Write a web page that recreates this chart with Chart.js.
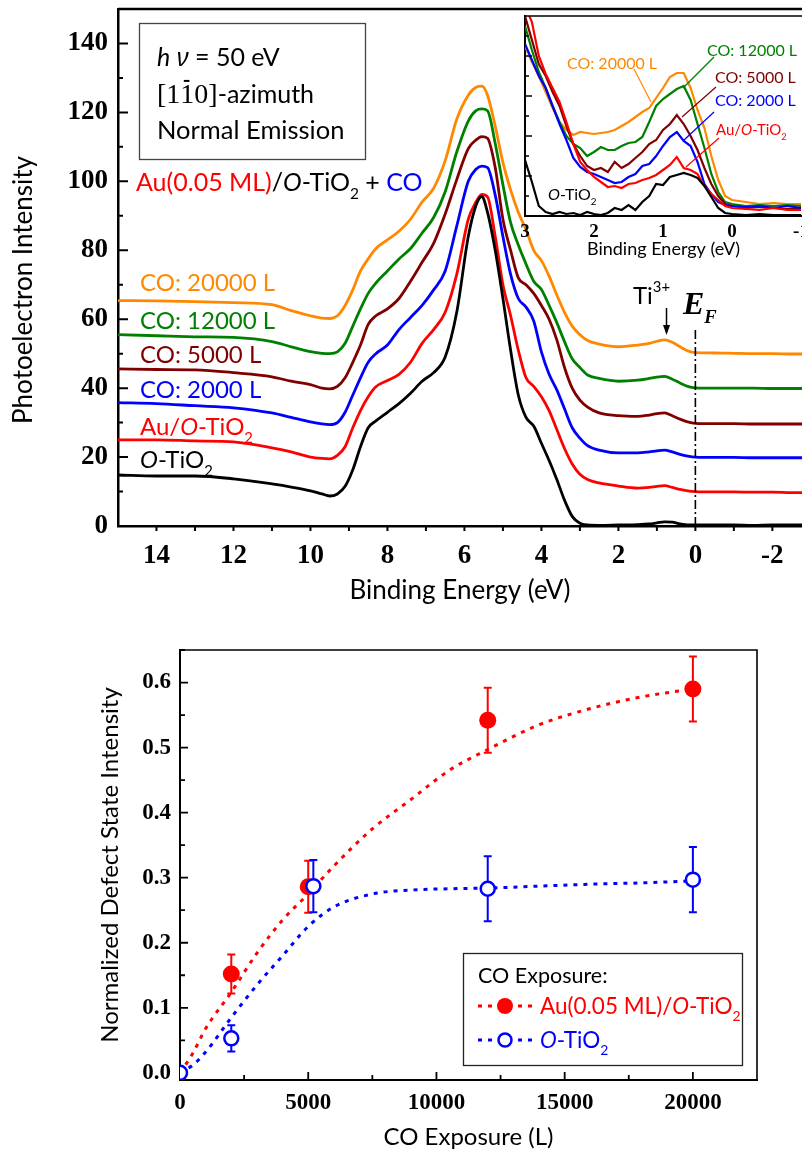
<!DOCTYPE html>
<html>
<head>
<meta charset="utf-8">
<title>Ti3+ defect state under CO exposure</title>
<script src="https://cdn.jsdelivr.net/npm/chart.js@4.4.1/dist/chart.umd.min.js"></script>
<style>
  body { margin: 0; background: #fff; }
  #page { position: relative; width: 802px; height: 1155px; overflow: hidden; background: #fff; }
  canvas { position: absolute; }
</style>
</head>
<body>
<div id="page">
  <canvas id="spectra" width="802" height="615" style="left:0;top:0"></canvas>
  <canvas id="inset" width="297" height="254" style="left:505px;top:6px"></canvas>
  <canvas id="defect" width="802" height="535" style="left:0;top:620px"></canvas>
</div>
<script>
// Valence band spectra (hv = 50 eV) and Ti3+ defect state intensity vs CO exposure

const SANS = 'Lato, "Open Sans", sans-serif'
const SERIF = '"Liberation Serif", "Times New Roman", serif'

// main spectra, binding energy (eV)
const energy = [15, 14, 13, 12, 11, 10.5, 10, 9.7, 9.5, 9.3,
  9.1, 8.9, 8.7, 8.5, 8.3, 8.0, 7.7, 7.4, 7.1, 6.8,
  6.5, 6.2, 5.9, 5.7, 5.55, 5.4, 5.2, 5.0, 4.8, 4.6,
  4.4, 4.2, 4.0, 3.8, 3.6, 3.4, 3.2, 3.0, 2.8, 2.5,
  2.0, 1.5, 1.2, 1.0, 0.8, 0.6, 0.4, 0.2, 0, -0.5,
  -1, -1.5, -2, -2.5, -2.8]
const oTiO2 = [14.8, 14.5, 14.5, 13.7, 12.2, 11.3, 10.2, 9.3, 8.7, 9.3,
  11.5, 16.3, 23, 28.5, 30.5, 33, 35.5, 38.5, 42, 44.5,
  49, 62, 84, 93, 95.6, 91, 80, 66, 51, 38,
  31.5, 29, 24, 19, 13.5, 7.5, 2.8, 0.8, 0.3, 0.2,
  0.3, 0.4, 0.6, 0.9, 1.2, 1.1, 0.6, 0.3, 0.3, 0.3,
  0.3, 0.2, 0.3, 0.3, 0.3]
const auTiO2 = [25, 25, 24.7, 24.4, 22.7, 21.5, 20, 19.6, 19.5, 20.5,
  23, 28.5, 33.5, 37.5, 40.4, 42.2, 44, 47.5, 53, 57,
  62, 73, 89, 94, 96.2, 95.5, 84, 70, 61, 51,
  43, 40.5, 37.5, 33.5, 28, 22.5, 18, 15, 13.5, 12.5,
  11.6, 11, 11.2, 11.5, 11.7, 11.2, 10.6, 10.2, 10, 9.9,
  9.9, 9.8, 9.8, 9.7, 9.7]
const co2000 = [35.8, 35.5, 34.9, 34.3, 32.8, 31.5, 30.2, 29.6, 29.4, 30,
  33, 38, 43, 47.5, 50, 52.5, 57, 60.5, 64, 68.5,
  74, 87, 100, 103.5, 104.4, 104, 96, 84, 73, 66,
  63.5, 59.5, 50.5, 44, 39.5, 34, 28.5, 25.5, 23.3, 22,
  21.2, 21.2, 21.5, 21.8, 22, 21.5, 20.8, 20.3, 20, 19.9,
  19.9, 19.8, 19.8, 19.8, 19.8]
const co5000 = [45.6, 45.4, 45.3, 44.5, 43.3, 42, 41, 40, 39.8, 40.5,
  43, 47.5, 52.5, 58.5, 61, 63, 66, 71, 76.5, 82,
  90.5, 100.5, 109.5, 112, 113, 112.5, 104, 89, 80, 72,
  70, 67.5, 64, 60, 54, 46, 40, 36.5, 34.5, 32.8,
  32, 31.8, 32.2, 32.6, 32.8, 32, 31, 30.2, 29.8, 29.7,
  29.7, 29.6, 29.6, 29.6, 29.6]
const co12000 = [55.5, 55.2, 54.9, 54.7, 53.5, 52, 50.6, 50.1, 50, 50.5,
  53, 58, 63, 67.5, 70.5, 74, 77.5, 80.5, 85, 89.5,
  97, 108.5, 117.5, 120.5, 121, 120.5, 111, 99, 88, 81.5,
  76, 71, 68.6, 64, 59, 53.5, 48.5, 46, 43.8, 42.8,
  42, 42.3, 42.8, 43.2, 43.4, 42.6, 41.5, 40.5, 40.1, 40,
  40, 40, 39.9, 39.9, 39.9]
const co20000 = [65.4, 65.3, 65.1, 64.8, 64.2, 62.5, 61, 60.3, 60.2, 61,
  64, 68.5, 74, 77.5, 80.5, 83, 85.5, 89, 94, 98,
  106, 118, 125, 127.3, 127.6, 125, 116, 105.5, 97.5, 91,
  86, 80, 77, 72.5, 67, 62, 58, 55.5, 53.8, 52.8,
  52, 52.5, 53, 53.6, 54, 53.3, 52, 50.8, 50.3, 50.2,
  50.1, 50, 50, 49.9, 49.9]

// inset: band gap region (arb. units)
const energyInset = [3.0, 2.9, 2.8, 2.7, 2.6, 2.5, 2.4, 2.3, 2.2, 2.1,
  2.0, 1.9, 1.8, 1.7, 1.6, 1.5, 1.4, 1.3, 1.2, 1.1,
  1.0, 0.9, 0.8, 0.7, 0.6, 0.5, 0.4, 0.3, 0.2, 0.1,
  0, -0.2, -0.4, -0.6, -0.8, -1.0]
const oTiO2Inset = [28, 17, 5, 2, 1, 2, 1, 1.5, 0.5, 2,
  1, 0.5, 1.5, 4, 3, 5.5, 3, 7, 10, 16,
  15.5, 19.5, 20.5, 21.5, 20.5, 19, 15, 9.5, 4, 1.5,
  1, 0.5, 1, 0.5, 0.5, 0.5]
const auTiO2Inset = [105, 97, 80, 71, 64, 57, 47, 36, 27, 23,
  19.5, 17, 14.5, 15, 14, 16, 16.5, 18, 19, 20.5,
  23, 25.5, 29.5, 24, 23, 21, 15, 11, 8, 5,
  4, 3.5, 3, 4, 3, 3]
const co2000Inset = [86, 78, 70, 64, 55, 46, 38, 29, 24.5, 22,
  21, 19.5, 18, 16.5, 17, 19.5, 21, 25, 26, 30,
  35, 39.5, 42, 37.5, 35, 27, 16, 11, 7, 5.5,
  5, 4.5, 5, 4, 5, 4]
const co5000Inset = [100, 88, 76, 70, 62, 55, 45, 36, 30, 25,
  23, 24, 22, 27, 24, 26, 29, 32, 36, 38,
  43, 46, 50.5, 46, 40, 33, 24, 16, 10, 6,
  5, 4, 4.5, 4, 3.5, 4]
const co12000Inset = [95, 83, 72, 64, 55, 47, 40, 36, 34, 30,
  32, 34.5, 33, 33, 35, 36.5, 37, 39.5, 47, 55,
  58.5, 61, 63.5, 65, 58, 46, 34, 21, 12, 7,
  6, 5, 5.5, 5, 5.5, 5]
const co20000Inset = [85, 77, 70, 62, 54, 47, 43, 40.5, 42, 41.5,
  41, 41.5, 42, 43, 45, 47, 49.5, 52, 54, 59,
  64, 69.5, 71.5, 71.5, 64, 53, 44, 30, 18, 10,
  8, 7, 6, 6.5, 6, 6]

// normalized defect state intensity vs CO exposure (L)
const exposureTicks = [0, 5000, 10000, 15000, 20000]
const auExposure = [2000, 5000, 12000, 20000]
const auDefect = [0.152, 0.286, 0.542, 0.59]
const auDefectErr = [0.03, 0.04, 0.05, 0.05]
const tiExposure = [0, 2000, 5200, 12000, 20000]
const tiDefect = [0, 0.053, 0.287, 0.283, 0.297]
const tiDefectErr = [0, 0.02, 0.04, 0.05, 0.05]
const fitExposure = [0, 500, 1000, 2000, 3000, 4000, 5000, 6000, 7500, 9000, 10500, 12000, 14000, 16000, 18000, 20000]
const auFit = [0, 0.03, 0.068, 0.124, 0.184, 0.235, 0.275, 0.318, 0.375, 0.42, 0.465, 0.497, 0.535, 0.56, 0.578, 0.59]
const tiFit = [0, 0.012, 0.032, 0.085, 0.135, 0.18, 0.225, 0.255, 0.275, 0.281, 0.283, 0.284, 0.287, 0.29, 0.292, 0.295]

const colors = {o: '#000000', au: '#FF0000', c2: '#0000FF', c5: '#800000', c12: '#008000', c20: '#FF8800'}

function points(xs, ys) {
    return xs.map((x, i) => ({x: x, y: ys[i]}))
}

// draws a run of text pieces; y is the vertical centre of the normal sized text
function rich(ctx, x, y, parts, size, family) {
    ctx.textAlign = 'left'
    ctx.textBaseline = 'alphabetic'
    const base = y + size * 0.35
    for (const p of parts) {
        const s = (p.sub || p.sup) ? size * 0.62 : (p.size || size)
        ctx.font = (p.italic ? 'italic ' : '') + (p.bold ? 'bold ' : '') + s + 'px ' + (p.family || family)
        ctx.fillStyle = p.color || '#000'
        const dy = p.sub ? size * 0.32 : p.sup ? -size * 0.5 : 0
        ctx.fillText(p.t, x, base + dy)
        const w = ctx.measureText(p.t).width
        if (p.bar) {
            ctx.strokeStyle = p.color || '#000'
            ctx.lineWidth = 2
            ctx.beginPath()
            ctx.moveTo(x + w * 0.25, base - s * 0.78)
            ctx.lineTo(x + w * 0.65, base - s * 0.78)
            ctx.stroke()
        }
        x += w + (p.gap || 0)
    }
    return x
}

function tio2(color, extra) {
    return [{t: 'O', italic: true, color: color}, {t: '-TiO', color: color}, {t: '2', sub: true, color: color}].concat(extra || [])
}

function tickMarks(ctx, chart, axis, values, len, outward) {
    const s = chart.scales[axis]
    const a = chart.chartArea
    ctx.beginPath()
    for (const v of values) {
        const p = s.getPixelForValue(v)
        if (axis === 'x') {
            ctx.moveTo(p, a.bottom)
            ctx.lineTo(p, outward ? a.bottom + len : a.bottom - len)
        } else {
            ctx.moveTo(a.left, p)
            ctx.lineTo(outward ? a.left - len : a.left + len, p)
        }
    }
    ctx.stroke()
}

function range(from, to, step) {
    const out = []
    for (let v = from; v <= to + 1e-9; v += step) out.push(v)
    return out
}

function leader(ctx, color, x1, y1, x2, y2) {
    ctx.strokeStyle = color
    ctx.lineWidth = 1.2
    ctx.beginPath()
    ctx.moveTo(x1, y1)
    ctx.lineTo(x2, y2)
    ctx.stroke()
}

// ---------- top panel ----------
const spectraDecor = {
    id: 'spectraDecor',
    afterDraw(chart) {
        const ctx = chart.ctx
        const a = chart.chartArea
        const xs = chart.scales.x
        ctx.save()
        ctx.strokeStyle = '#000'
        ctx.lineWidth = 2.5
        ctx.beginPath()
        ctx.moveTo(a.left, a.top)
        ctx.lineTo(a.right, a.top)
        ctx.stroke()

        ctx.lineWidth = 2
        tickMarks(ctx, chart, 'y', range(20, 140, 20), 10, false)
        tickMarks(ctx, chart, 'y', range(10, 130, 20), 5, false)
        tickMarks(ctx, chart, 'x', range(-2, 14, 1), 5, true)

        // Fermi level
        const x0 = xs.getPixelForValue(0)
        ctx.lineWidth = 1.6
        ctx.setLineDash([9, 3, 2, 3])
        ctx.beginPath()
        ctx.moveTo(x0, 330)
        ctx.lineTo(x0, a.bottom)
        ctx.stroke()
        ctx.setLineDash([])

        // Ti3+ arrow
        const xt = xs.getPixelForValue(0.75)
        ctx.lineWidth = 1.5
        ctx.beginPath()
        ctx.moveTo(xt, 308)
        ctx.lineTo(xt, 332)
        ctx.stroke()
        ctx.fillStyle = '#000'
        ctx.beginPath()
        ctx.moveTo(xt, 335)
        ctx.lineTo(xt - 3.5, 325)
        ctx.lineTo(xt + 3.5, 325)
        ctx.closePath()
        ctx.fill()
        rich(ctx, 633, 296, [{t: 'Ti'}, {t: '3+', sup: true}], 24, SANS)
        rich(ctx, 683, 303, [{t: 'E', bold: true, italic: true, size: 32}, {t: 'F', sub: true, bold: true, italic: true}], 30, SERIF)

        // info box
        ctx.strokeStyle = '#444'
        ctx.lineWidth = 1.3
        ctx.strokeRect(139.5, 23.5, 226, 136)
        rich(ctx, 157, 57, [{t: 'h', italic: true}, {t: ' ν', italic: true, family: '"Noto Sans"'}, {t: ' = 50 eV'}], 25, SANS)
        rich(ctx, 157, 94, [{t: '[1', family: SERIF, size: 28}, {t: '1', family: SERIF, size: 28, bar: true}, {t: '0]', family: SERIF, size: 28}, {t: '-azimuth'}], 25, SANS)
        rich(ctx, 157, 130, [{t: 'Normal Emission'}], 25.5, SANS)

        rich(ctx, 136, 182, [{t: 'Au(0.05 ML)', color: colors.au}, {t: '/'}].concat(tio2('#000', [{t: ' + '}, {t: 'CO', color: colors.c2}])), 25, SANS)

        // curve labels
        rich(ctx, 140, 283, [{t: 'CO: 20000 L', color: colors.c20}], 24, SANS)
        rich(ctx, 140, 321, [{t: 'CO: 12000 L', color: colors.c12}], 24, SANS)
        rich(ctx, 140, 355, [{t: 'CO: 5000 L', color: colors.c5}], 24, SANS)
        rich(ctx, 140, 390, [{t: 'CO: 2000 L', color: colors.c2}], 24, SANS)
        rich(ctx, 140, 427, [{t: 'Au/', color: colors.au}].concat(tio2(colors.au)), 24, SANS)
        rich(ctx, 140, 460, tio2('#000'), 24, SANS)

        // y title
        ctx.translate(24, 290)
        ctx.rotate(-Math.PI / 2)
        ctx.font = '26px ' + SANS
        ctx.fillStyle = '#000'
        ctx.textAlign = 'center'
        ctx.textBaseline = 'middle'
        ctx.fillText('Photoelectron Intensity', 0, 0)
        ctx.restore()
    }
}

const mainSeries = [
    [oTiO2, colors.o], [auTiO2, colors.au], [co2000, colors.c2],
    [co5000, colors.c5], [co12000, colors.c12], [co20000, colors.c20]
]

new Chart(document.getElementById('spectra'), {
    type: 'line',
    data: {
        datasets: mainSeries.map(s => ({
            data: points(energy, s[0]),
            borderColor: s[1],
            borderWidth: 2.8,
            pointRadius: 0,
            cubicInterpolationMode: 'monotone',
            fill: false
        }))
    },
    options: {
        responsive: false,
        animation: false,
        events: [],
        layout: {padding: {top: 9, left: 0, right: 0, bottom: 0}},
        plugins: {legend: {display: false}, tooltip: {enabled: false}},
        scales: {
            x: {
                type: 'linear', reverse: true, min: -2.77, max: 15,
                grid: {display: false, drawTicks: false},
                border: {display: true, color: '#000', width: 2.5},
                ticks: {stepSize: 2, includeBounds: false, autoSkip: false, maxRotation: 0, padding: 14, color: '#000',
                    font: {family: SERIF, weight: 'bold', size: 27}},
                title: {display: true, text: 'Binding Energy (eV)', color: '#000', font: {family: SANS, size: 26}, padding: {top: 0, bottom: 9}},
                afterFit: s => { s.height = 89; s.paddingLeft = 0; s.paddingRight = 0 }
            },
            y: {
                type: 'linear', min: 0, max: 150,
                grid: {display: false, drawTicks: false},
                border: {display: true, color: '#000', width: 2.5},
                ticks: {stepSize: 20, includeBounds: false, padding: 10, color: '#000',
                    font: {family: SERIF, weight: 'bold', size: 27}},
                afterFit: s => { s.width = 118; s.paddingTop = 0; s.paddingBottom = 0 }
            }
        }
    },
    plugins: [spectraDecor]
})

// ---------- inset ----------
const IX = 505, IY = 6
const insetDecor = {
    id: 'insetDecor',
    beforeDraw(chart) {
        const a = chart.chartArea
        chart.ctx.save()
        chart.ctx.fillStyle = '#fff'
        chart.ctx.fillRect(a.left, a.top, a.right - a.left, a.bottom - a.top)
        chart.ctx.restore()
    },
    afterDraw(chart) {
        const ctx = chart.ctx
        const a = chart.chartArea
        ctx.save()
        ctx.strokeStyle = '#000'
        ctx.lineWidth = 1.6
        ctx.beginPath()
        ctx.moveTo(a.left, a.top)
        ctx.lineTo(a.right, a.top)
        ctx.stroke()
        ctx.lineWidth = 1.3
        tickMarks(ctx, chart, 'y', range(20, 80, 20), 7, false)
        tickMarks(ctx, chart, 'y', range(10, 90, 20), 4, false)

        ctx.translate(-IX, -IY)
        leader(ctx, colors.c20, 634, 69, 651, 102)
        leader(ctx, colors.c12, 714, 57, 683, 88)
        leader(ctx, colors.c5, 716, 87, 682, 117)
        leader(ctx, colors.c2, 714, 112, 684, 140)
        leader(ctx, colors.au, 719, 138, 686, 167)
        rich(ctx, 567, 63, [{t: 'CO: 20000 L', color: colors.c20}], 16, SANS)
        rich(ctx, 707, 50, [{t: 'CO: 12000 L', color: colors.c12}], 16, SANS)
        rich(ctx, 715, 77, [{t: 'CO: 5000 L', color: colors.c5}], 16, SANS)
        rich(ctx, 715, 100, [{t: 'CO: 2000 L', color: colors.c2}], 16, SANS)
        rich(ctx, 716, 130, [{t: 'Au/', color: colors.au}].concat(tio2(colors.au)), 15, SANS)
        rich(ctx, 548, 194, tio2('#000'), 16, SANS)
        ctx.restore()
    }
}

const insetSeries = [
    [oTiO2Inset, colors.o], [auTiO2Inset, colors.au], [co2000Inset, colors.c2],
    [co5000Inset, colors.c5], [co12000Inset, colors.c12], [co20000Inset, colors.c20]
]

new Chart(document.getElementById('inset'), {
    type: 'line',
    data: {
        datasets: insetSeries.map(s => ({
            data: points(energyInset, s[0]),
            borderColor: s[1],
            borderWidth: 2.2,
            pointRadius: 0,
            tension: 0,
            fill: false
        }))
    },
    options: {
        responsive: false,
        animation: false,
        events: [],
        layout: {padding: {top: 10, left: 0, right: 0, bottom: 0}},
        plugins: {legend: {display: false}, tooltip: {enabled: false}},
        scales: {
            x: {
                type: 'linear', reverse: true, min: -1.014, max: 3,
                grid: {display: false, drawTicks: false},
                border: {display: true, color: '#000', width: 2},
                ticks: {stepSize: 1, includeBounds: false, autoSkip: false, maxRotation: 0, padding: 5, color: '#000',
                    font: {family: SERIF, weight: 'bold', size: 19}},
                title: {display: true, text: 'Binding Energy (eV)', color: '#000', font: {family: SANS, size: 18}, padding: {top: 0, bottom: 0}},
                afterFit: s => { s.height = 44; s.paddingLeft = 0; s.paddingRight = 0 }
            },
            y: {
                type: 'linear', min: 0, max: 100,
                grid: {display: false, drawTicks: false},
                border: {display: true, color: '#000', width: 2},
                ticks: {display: false},
                afterFit: s => { s.width = 20; s.paddingTop = 0; s.paddingBottom = 0 }
            }
        }
    },
    plugins: [insetDecor]
})

// ---------- bottom panel ----------
const DY = 620
function errorBars(ctx, chart, xs, ys, errs, color) {
    const sx = chart.scales.x, sy = chart.scales.y
    ctx.strokeStyle = color
    ctx.lineWidth = 2
    ctx.beginPath()
    xs.forEach((x, i) => {
        if (!errs[i]) return
        const px = sx.getPixelForValue(x)
        const top = sy.getPixelForValue(ys[i] + errs[i])
        const bot = sy.getPixelForValue(ys[i] - errs[i])
        ctx.moveTo(px, top); ctx.lineTo(px, bot)
        ctx.moveTo(px - 4, top); ctx.lineTo(px + 4, top)
        ctx.moveTo(px - 4, bot); ctx.lineTo(px + 4, bot)
    })
    ctx.stroke()
}

const defectDecor = {
    id: 'defectDecor',
    beforeDatasetsDraw(chart) {
        const ctx = chart.ctx
        ctx.save()
        errorBars(ctx, chart, auExposure, auDefect, auDefectErr, colors.au)
        errorBars(ctx, chart, tiExposure, tiDefect, tiDefectErr, colors.c2)
        ctx.restore()
    },
    afterDraw(chart) {
        const ctx = chart.ctx
        const a = chart.chartArea
        ctx.save()
        ctx.strokeStyle = '#000'
        ctx.lineWidth = 1.6
        ctx.beginPath()
        ctx.moveTo(a.left, a.top)
        ctx.lineTo(a.right, a.top)
        ctx.lineTo(a.right, a.bottom)
        ctx.stroke()
        ctx.lineWidth = 1.8
        tickMarks(ctx, chart, 'y', range(0.1, 0.6, 0.1), 8, false)
        tickMarks(ctx, chart, 'y', range(0.05, 0.65, 0.1), 5, false)
        tickMarks(ctx, chart, 'x', range(5000, 20000, 5000), 8, false)
        tickMarks(ctx, chart, 'x', range(2500, 20000, 5000), 5, false)

        // legend
        ctx.translate(0, -DY)
        ctx.fillStyle = '#fff'
        ctx.fillRect(463, 953, 279, 112)
        ctx.strokeStyle = '#222'
        ctx.lineWidth = 1.3
        ctx.strokeRect(463.5, 953.5, 279, 112)
        rich(ctx, 478, 975, [{t: 'CO Exposure:'}], 21.5, SANS)
        const rows = [[1006, colors.au, true], [1040, colors.c2, false]]
        for (const r of rows) {
            ctx.strokeStyle = r[1]
            ctx.lineWidth = 3
            ctx.setLineDash([4, 6])
            ctx.beginPath()
            ctx.moveTo(478, r[0])
            ctx.lineTo(533, r[0])
            ctx.stroke()
            ctx.setLineDash([])
            ctx.beginPath()
            if (r[2]) {
                ctx.arc(505, r[0], 8, 0, Math.PI * 2)
                ctx.fillStyle = r[1]
                ctx.fill()
            } else {
                ctx.arc(505, r[0], 6.5, 0, Math.PI * 2)
                ctx.fillStyle = '#fff'
                ctx.fill()
                ctx.lineWidth = 2.5
                ctx.stroke()
            }
        }
        rich(ctx, 540, 1006, [{t: 'Au(0.05 ML)/', color: colors.au}].concat(tio2(colors.au)), 22.5, SANS)
        rich(ctx, 540, 1040, tio2(colors.c2), 22.5, SANS)
        ctx.restore()
    }
}

new Chart(document.getElementById('defect'), {
    type: 'line',
    data: {
        datasets: [
            {data: points(tiExposure, tiDefect), showLine: false, pointRadius: 7, pointBorderWidth: 2.5,
                pointBorderColor: colors.c2, pointBackgroundColor: '#fff'},
            {data: points(auExposure, auDefect), showLine: false, pointRadius: 8.5, pointBorderWidth: 0,
                pointBackgroundColor: colors.au, pointBorderColor: colors.au},
            {data: points(fitExposure, tiFit), borderColor: colors.c2, borderWidth: 3, borderDash: [4, 6],
                pointRadius: 0, cubicInterpolationMode: 'monotone', fill: false},
            {data: points(fitExposure, auFit), borderColor: colors.au, borderWidth: 3, borderDash: [4, 6],
                pointRadius: 0, cubicInterpolationMode: 'monotone', fill: false}
        ]
    },
    options: {
        responsive: false,
        animation: false,
        events: [],
        layout: {padding: {top: 30, left: 0, right: 45, bottom: 0}},
        plugins: {legend: {display: false}, tooltip: {enabled: false}},
        scales: {
            x: {
                type: 'linear', min: 0, max: 22500,
                grid: {display: false, drawTicks: false},
                border: {display: true, color: '#000', width: 2},
                ticks: {autoSkip: false, maxRotation: 0, padding: 9, color: '#000',
                    font: {family: SERIF, weight: 'bold', size: 23}, callback: v => String(v)},
                afterBuildTicks: s => { s.ticks = exposureTicks.map(v => ({value: v})) },
                title: {display: true, text: 'CO Exposure (L)', color: '#000', font: {family: SANS, size: 24}, padding: {top: 0, bottom: 3}},
                afterFit: s => { s.height = 75; s.paddingLeft = 0; s.paddingRight = 0 }
            },
            y: {
                type: 'linear', min: -0.011, max: 0.65,
                grid: {display: false, drawTicks: false},
                border: {display: true, color: '#000', width: 2},
                ticks: {stepSize: 0.1, includeBounds: false, padding: 9, color: '#000',
                    font: {family: SERIF, weight: 'bold', size: 23},
                    callback: v => Math.abs(v) < 1e-9 ? '0.0' : v.toFixed(1)},
                title: {display: true, text: 'Normalized Defect State Intensity', color: '#000', font: {family: SANS, size: 24}, padding: {top: 96, bottom: 0}},
                afterFit: s => { s.width = 180; s.paddingTop = 0; s.paddingBottom = 0 }
            }
        }
    },
    plugins: [defectDecor]
})
</script>
</body>
</html>
